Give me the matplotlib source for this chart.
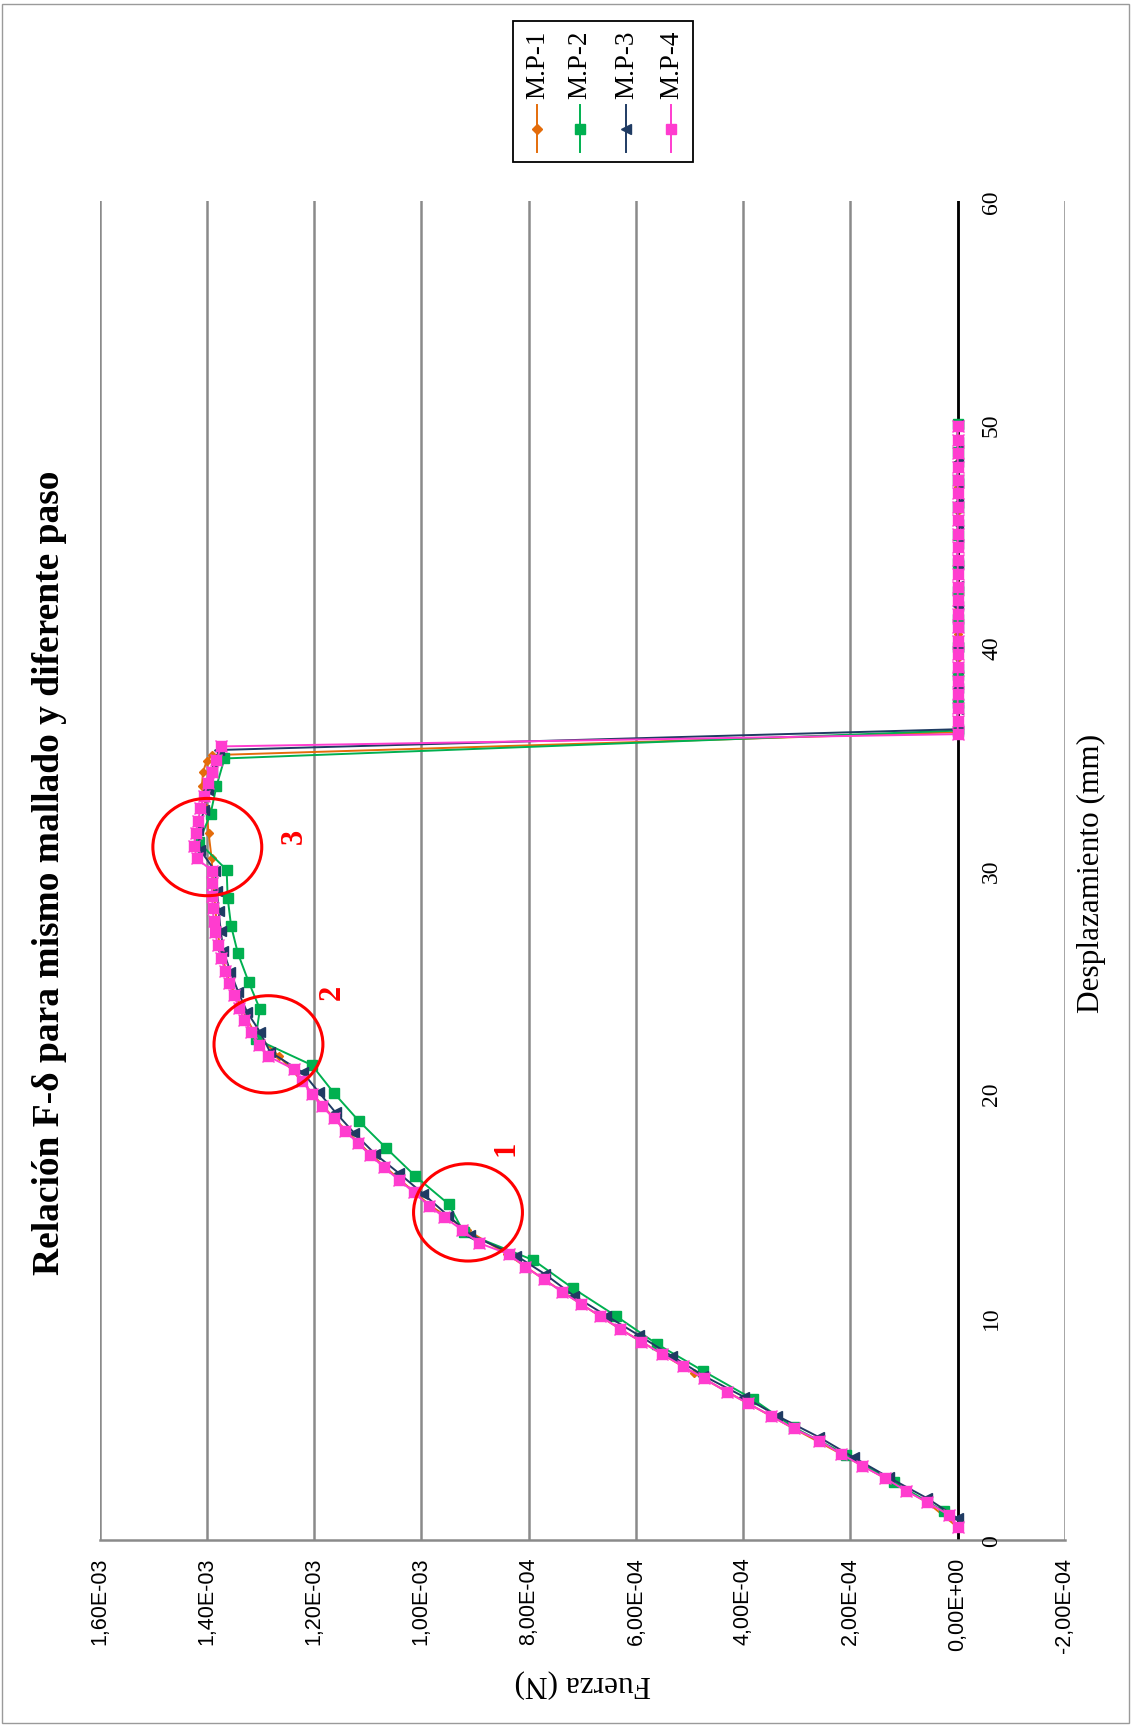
import numpy as np
import matplotlib.pyplot as plt
from matplotlib.lines import Line2D
from matplotlib.patches import Ellipse, Rectangle

W, H = 1131, 1731

# desplazamiento (mm) / fuerza (1e-3 N) por modelo
mp1_d = [0.57, 1.69, 2.78, 3.85, 5.00, 6.12, 7.48, 8.33, 9.45, 10.57, 11.69, 12.81,
         13.89, 14.98, 16.14, 17.25, 18.34, 19.43, 20.55, 21.67, 22.77, 23.84, 24.96,
         26.10, 27.23, 28.32, 29.44, 30.54, 31.66, 32.78, 33.80, 34.42, 34.92, 35.17,
         36.20, 37.30, 38.40, 39.50, 40.60, 41.70, 42.80, 43.90, 45.00, 46.10, 47.20,
         48.30, 49.40, 49.95]
mp1_f = [0.000, 0.057, 0.136, 0.217, 0.306, 0.391, 0.492, 0.551, 0.629, 0.702, 0.772, 0.840,
         0.915, 0.983, 1.040, 1.093, 1.140, 1.183, 1.222, 1.265, 1.312, 1.336, 1.357,
         1.371, 1.380, 1.384, 1.388, 1.391, 1.3965, 1.401, 1.409, 1.407, 1.400, 1.390,
         0.0, 0.0, 0.0, 0.0, 0.0, 0.0, 0.0, 0.0, 0.0, 0.0, 0.0,
         0.0, 0.0, 0.0]

mp2_d = [1.29, 2.59, 3.82, 5.05, 6.32, 7.59, 8.78, 10.05, 11.29, 12.54, 13.79, 15.05,
         16.30, 17.55, 18.79, 20.03, 21.28, 22.45, 23.79, 25.01, 26.29, 27.52, 28.76,
         30.03, 31.26, 32.53, 33.77, 35.02, 36.27, 37.52, 38.77, 40.02, 41.27, 42.52,
         43.77, 45.02, 46.27, 47.52, 48.77, 50.00]
mp2_f = [0.0265, 0.118, 0.208, 0.306, 0.3825, 0.4757, 0.5607, 0.638, 0.718, 0.791, 0.921, 0.949,
         1.011, 1.065, 1.117, 1.163, 1.204, 1.309, 1.301, 1.322, 1.342, 1.3547, 1.361,
         1.363, 1.415, 1.393, 1.382, 1.367, 0.0, 0.0, 0.0, 0.0, 0.0, 0.0,
         0.0, 0.0, 0.0, 0.0, 0.0, 0.0]

mp3_d = [0.97, 1.87, 2.81, 3.70, 4.60, 5.57, 6.42, 7.36, 8.23, 9.18, 10.05, 10.95,
         11.92, 12.74, 13.68, 14.53, 15.50, 16.44, 17.29, 18.23, 19.16, 20.06, 20.95,
         21.87, 22.77, 23.67, 24.54, 25.46, 26.40, 27.30, 28.20, 29.10, 30.00, 30.90,
         31.80, 32.70, 33.60, 34.50, 35.40, 36.33, 37.25, 38.17, 39.09, 40.01, 40.93,
         41.85, 42.77, 43.69, 44.61, 45.53, 46.45, 47.37, 48.29, 49.21, 49.95]
mp3_f = [0.0, 0.057, 0.129, 0.194, 0.258, 0.337, 0.399, 0.474, 0.532, 0.595, 0.655, 0.716,
         0.770, 0.823, 0.909, 0.950, 0.996, 1.042, 1.086, 1.125, 1.160, 1.191, 1.221,
         1.282, 1.301, 1.325, 1.341, 1.356, 1.369, 1.374, 1.378, 1.381, 1.385, 1.412,
         1.416, 1.405, 1.397, 1.391, 1.377, 0.0, 0.0, 0.0, 0.0, 0.0, 0.0,
         0.0, 0.0, 0.0, 0.0, 0.0, 0.0, 0.0, 0.0, 0.0, 0.0]

mp4_d = [0.57, 1.13, 1.69, 2.21, 2.78, 3.33, 3.85, 4.45, 5.00, 5.57, 6.12, 6.64,
         7.24, 7.78, 8.33, 8.88, 9.45, 10.02, 10.57, 11.12, 11.69, 12.24, 12.81, 13.31,
         13.89, 14.46, 14.98, 15.58, 16.14, 16.70, 17.25, 17.79, 18.34, 18.89, 19.43,
         19.98, 20.55, 21.10, 21.67, 22.19, 22.77, 23.31, 23.84, 24.40, 24.96, 25.50,
         26.10, 26.66, 27.23, 27.75, 28.32, 28.87, 29.44, 29.99, 30.54, 31.10, 31.66,
         32.23, 32.78, 33.35, 33.92, 34.42, 34.96, 35.56, 36.11, 36.70, 37.30, 37.90,
         38.50, 39.10, 39.70, 40.30, 40.90, 41.50, 42.10, 42.70, 43.30, 43.90, 44.50,
         45.10, 45.70, 46.30, 46.90, 47.50, 48.10, 48.70, 49.30, 49.90]
mp4_f = [0.0, 0.017, 0.057, 0.097, 0.136, 0.179, 0.217, 0.258, 0.306, 0.349, 0.391, 0.431,
         0.473, 0.512, 0.551, 0.590, 0.629, 0.666, 0.702, 0.738, 0.772, 0.806, 0.837, 0.893,
         0.924, 0.957, 0.986, 1.014, 1.042, 1.070, 1.095, 1.119, 1.142, 1.163, 1.185,
         1.203, 1.222, 1.238, 1.285, 1.303, 1.317, 1.331, 1.339, 1.350, 1.359, 1.366,
         1.373, 1.380, 1.384, 1.387, 1.389, 1.390, 1.391, 1.390, 1.419, 1.423, 1.421,
         1.416, 1.412, 1.405, 1.398, 1.390, 1.382, 1.373, 0.0, 0.0, 0.0, 0.0,
         0.0, 0.0, 0.0, 0.0, 0.0, 0.0, 0.0, 0.0, 0.0, 0.0, 0.0,
         0.0, 0.0, 0.0, 0.0, 0.0, 0.0, 0.0, 0.0, 0.0]

series_names = ["M.P-1", "M.P-2", "M.P-3", "M.P-4"]
force_ticks = [1.6e-3, 1.4e-3, 1.2e-3, 1.0e-3, 8e-4, 6e-4, 4e-4, 2e-4, 0.0, -2e-4]
disp_ticks = [0, 10, 20, 30, 40, 50, 60]

colors = ["#E46C0A", "#00B050", "#1F3B63", "#FF3CCF"]
markers = ["D", "s", "<", "s"]
msizes = [4.5, 6.5, 7, 6.5]

SERIF = "Liberation Serif"
SANS = "Liberation Sans"


def fx(x):
    return x / W


def fy(y):
    return 1 - y / H


fig = plt.figure(figsize=(W / 100, H / 100), dpi=100)
ax = fig.add_axes([fx(99.5), fy(1541), fx(1065) - fx(99.5), fy(202) - fy(1541)])
ax.set_xlim(1.6e-3, -2e-4)
ax.set_ylim(0, 60)

# rejilla vertical (valores de fuerza) y eje cero
for t in force_ticks:
    ax.axvline(t, color="#8A8A8A", lw=1.8, zorder=1)
ax.axvline(0.0, color="black", lw=2.0, zorder=2)

for s in ["top", "left", "right"]:
    ax.spines[s].set_visible(False)
ax.spines["bottom"].set_color("#8A8A8A")
ax.spines["bottom"].set_linewidth(1.8)

ax.set_xticks(force_ticks)
ax.set_xticklabels([f"{t:.2E}".replace(".", ",") for t in force_ticks],
                   rotation=90, fontsize=15.5, family=SANS)
ax.tick_params(axis="x", length=0, pad=12)
ax.set_yticks([])

for d in disp_ticks:
    ax.text(-6.3e-5, d, str(d), rotation=90, ha="center", va="center",
            fontsize=17, family=SERIF)

data = [(mp1_d, mp1_f), (mp2_d, mp2_f), (mp3_d, mp3_f), (mp4_d, mp4_f)]
for i, (d, f) in enumerate(data):
    fv = np.array(f) * 1e-3
    ax.plot(fv, d, color=colors[i], lw=1.4, marker=markers[i], ms=msizes[i],
            mec=colors[i], mfc=colors[i], zorder=3 + i, clip_on=False)
    if i == 3:
        ax.plot(fv, d, ls="none", marker="x", ms=8.5, mew=1.0, color=colors[i],
                zorder=3 + i, clip_on=False)

# zonas marcadas
circ = [(0.913e-3, 14.68, "1", 0.8416e-3, 17.6),
        (1.285e-3, 22.21, "2", 1.1665e-3, 24.57),
        (1.399e-3, 31.05, "3", 1.2377e-3, 31.59)]
for cx, cy, lab, tx, ty in circ:
    ax.add_patch(Ellipse((cx, cy), 0.203e-3, 4.36, fill=False, ec="red", lw=2.2, zorder=8))
    ax.text(tx, ty, lab, rotation=90, ha="center", va="center", color="red",
            fontsize=22, fontweight="bold", family=SERIF, zorder=8)

fig.text(fx(50), fy(873), "Relación F-δ para mismo mallado y diferente paso",
         rotation=90, ha="center", va="center", fontsize=27, fontweight="bold", family=SERIF)
fig.text(fx(1091), fy(873), "Desplazamiento (mm)", rotation=90, ha="center", va="center",
         fontsize=22.5, family=SERIF)
fig.text(fx(583), fy(1684), "Fuerza (N)", rotation=180, ha="center", va="center",
         fontsize=22.5, family=SERIF)

# leyenda
fig.add_artist(Rectangle((fx(513), fy(163)), fx(693) - fx(513), fy(22) - fy(163),
                         transform=fig.transFigure, fill=False, ec="black", lw=1.3))
leg_x = [537.3, 579.7, 626.3, 671.3]
for i, name in enumerate(series_names):
    x = fx(leg_x[i])
    fig.add_artist(Line2D([x, x], [fy(106), fy(153)], transform=fig.transFigure,
                          color=colors[i], lw=1.4))
    fig.add_artist(Line2D([x], [fy(130)], transform=fig.transFigure, color=colors[i],
                          marker=markers[i], ms=msizes[i] + 0.5, mfc=colors[i], mec=colors[i]))
    fig.text(x, fy(99), name, rotation=90, ha="center", va="bottom", fontsize=19.5, family=SERIF)

# marco exterior
fig.add_artist(Rectangle((fx(2), fy(1724)), fx(1129) - fx(2), fy(5) - fy(1724),
                         transform=fig.transFigure, fill=False, ec="#9A9A9A", lw=1.0))

fig.savefig("out.png", dpi=100)
